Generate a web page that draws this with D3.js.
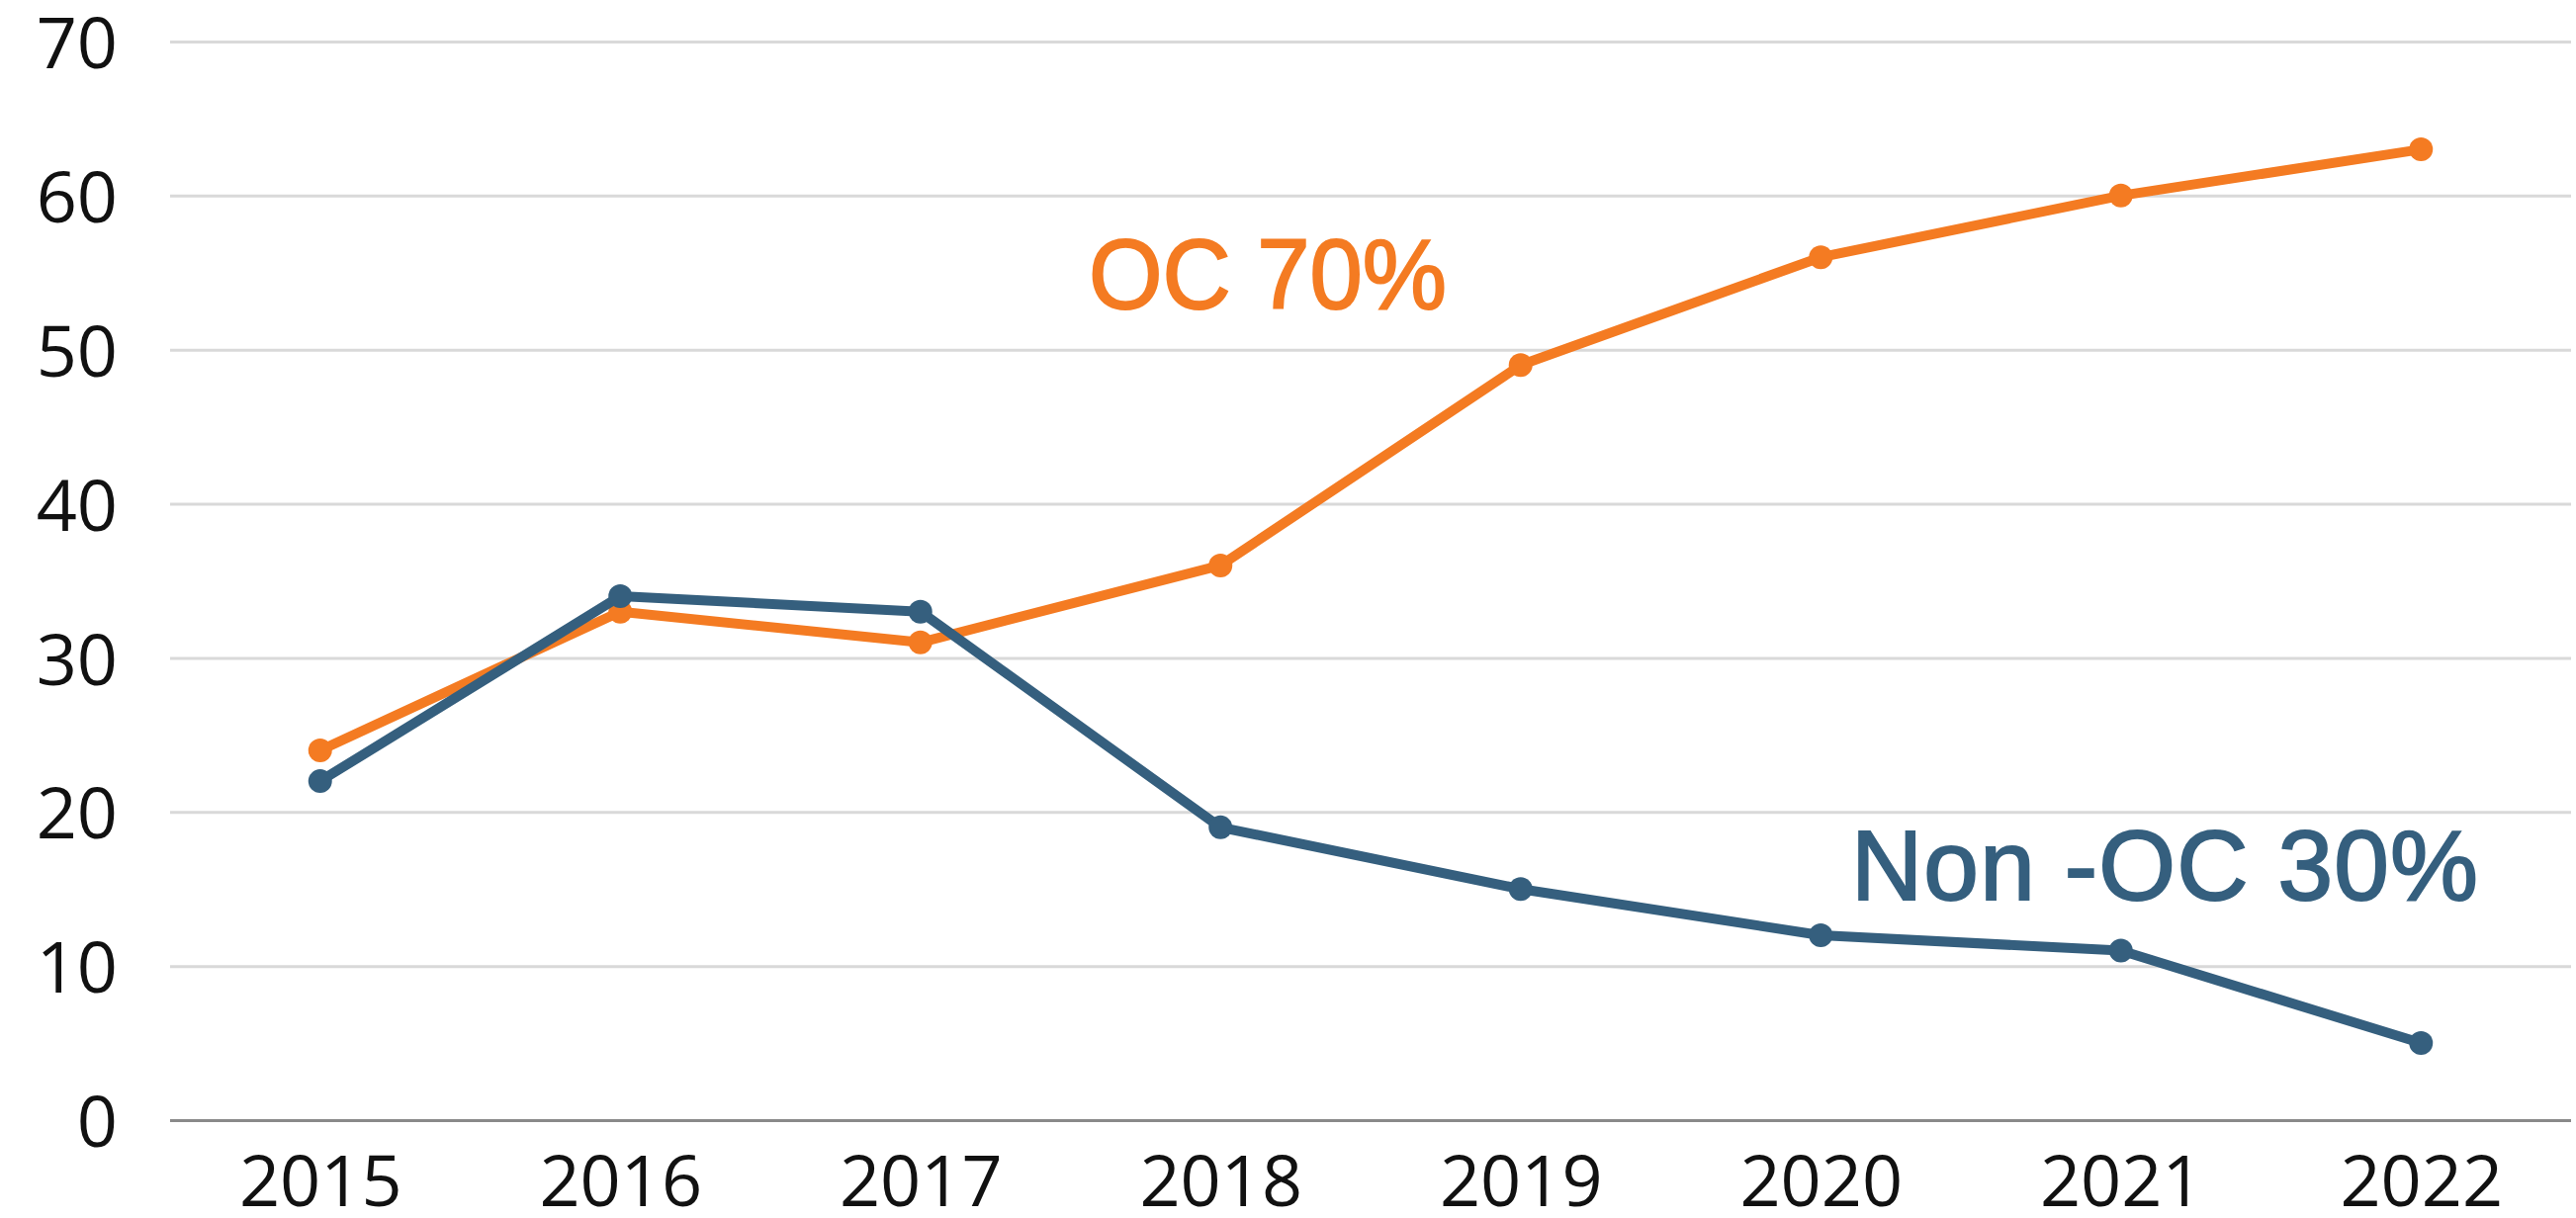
<!DOCTYPE html>
<html>
<head>
<meta charset="utf-8">
<script src="https://cdn.jsdelivr.net/npm/d3@7"></script>
<style>
  html, body { margin: 0; padding: 0; background: #fff; overflow: hidden; }
</style>
</head>
<body>
<div class="chart"></div>
<script>
var years = ["2015", "2016", "2017", "2018", "2019", "2020", "2021", "2022"];
var ocValues = [24, 33, 31, 36, 49, 56, 60, 63];
var nonOcValues = [22, 34, 33, 19, 15, 12, 11, 5];
var yTicks = [0, 10, 20, 30, 40, 50, 60, 70];
var ocLabel = "OC 70%";
var nonOcLabel = "Non -OC 30%";

document.addEventListener("DOMContentLoaded", function(event) {

  var w = 2605;
  var h = 1232;
  var left = 172, right = 2600, top = 42, bottom = 1133;

  var svg = d3.select(".chart")
              .append("svg")
              .attr("width", w)
              .attr("height", h);

  var x = d3.scalePoint()
            .domain(years)
            .range([left, right])
            .padding(0.5);

  var y = d3.scaleLinear()
            .domain([0, 70])
            .range([bottom, top]);

  // gridlines + y labels
  var yAxis = svg.append("g")
     .attr("transform", "translate(" + left + ",0)")
     .call(d3.axisLeft(y).tickValues(yTicks).tickSize(-(right - left)).tickPadding(53));
  yAxis.select(".domain").remove();
  yAxis.selectAll(".tick line")
       .attr("stroke", function(d) { return d == 0 ? "#8a8a8a" : "#d9d9d9"; })
       .attr("stroke-width", 3);
  yAxis.selectAll(".tick text")
       .attr("font-family", "'Open Sans', sans-serif")
       .attr("font-size", 72)
       .attr("fill", "#111")
       .attr("dy", "0.37em");

  // x labels
  var xAxis = svg.append("g")
     .attr("transform", "translate(0," + bottom + ")")
     .call(d3.axisBottom(x).tickSize(0).tickPadding(36));
  xAxis.select(".domain").remove();
  xAxis.selectAll(".tick text")
       .attr("font-family", "'Open Sans', sans-serif")
       .attr("font-size", 72)
       .attr("fill", "#111");

  var line = d3.line()
               .x(function(d, i) { return x(years[i]); })
               .y(function(d) { return y(d); });

  var series = [
    { values: ocValues, color: "#F47B22" },
    { values: nonOcValues, color: "#355F7E" }
  ];

  series.forEach(function(s) {
    svg.append("path")
       .datum(s.values)
       .attr("fill", "none")
       .attr("stroke", s.color)
       .attr("stroke-width", 10)
       .attr("stroke-linejoin", "round")
       .attr("d", line);
    svg.selectAll(null)
       .data(s.values)
       .enter()
       .append("circle")
       .attr("cx", function(d, i) { return x(years[i]); })
       .attr("cy", function(d) { return y(d); })
       .attr("r", 12)
       .attr("fill", s.color);
  });

  svg.append("text")
     .attr("x", 1101)
     .attr("y", 312)
     .attr("font-family", "'Liberation Sans', Arial, sans-serif")
     .attr("font-size", 100)
     .attr("fill", "#F47B22")
     .attr("stroke", "#F47B22")
     .attr("stroke-width", 2)
     .attr("textLength", 362)
     .attr("lengthAdjust", "spacingAndGlyphs")
     .text(ocLabel);

  svg.append("text")
     .attr("x", 1872)
     .attr("y", 910)
     .attr("font-family", "'Liberation Sans', Arial, sans-serif")
     .attr("font-size", 100)
     .attr("fill", "#355F7E")
     .attr("stroke", "#355F7E")
     .attr("stroke-width", 2)
     .attr("textLength", 634)
     .attr("lengthAdjust", "spacing")
     .text(nonOcLabel);
});
</script>
</body>
</html>
